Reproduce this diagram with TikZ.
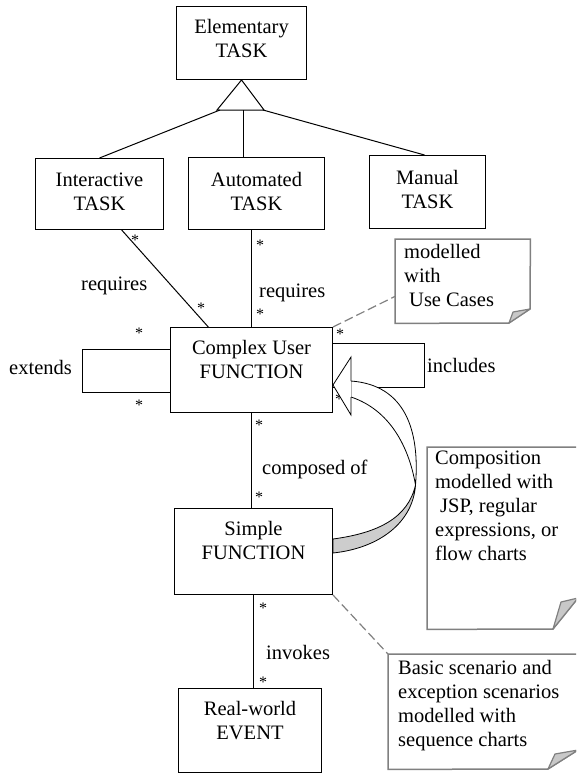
\documentclass[tikz,border=0pt]{standalone}
\usepackage{fontspec}
\setmainfont{Liberation Serif}
\usetikzlibrary{calc}
\definecolor{notegray}{RGB}{128,128,128}
\definecolor{flapgray}{RGB}{200,200,200}
\definecolor{arrowgray}{RGB}{205,205,205}
\begin{document}
\begin{tikzpicture}[x=1pt,y=-1pt,
  box/.style={draw, line width=1pt, inner sep=0pt, anchor=north west},
  boxtext/.style={font=\fontsize{20.5}{24}\selectfont, align=center, inner sep=0pt, anchor=north},
  lbl/.style={font=\fontsize{20.5}{24}\selectfont, inner sep=0pt, anchor=base west},
  star/.style={font=\fontsize{16}{16}\selectfont, inner sep=0pt, anchor=base},
  conn/.style={line width=1pt},
  notearea/.style={inner sep=0pt, anchor=north west},
  noteline/.style={draw=notegray, line width=1.5pt, line join=miter},
  flap/.style={draw=notegray, fill=flapgray, line width=1.2pt, line join=round},
  notetext/.style={font=\fontsize{20.5}{24}\selectfont, align=left, inner sep=0pt, anchor=north west},
  dashconn/.style={draw=notegray, line width=1.2pt, dash pattern=on 9pt off 4pt},
  blockarrow/.style={line width=0.8pt, line join=miter},
]
\clip (0,0) rectangle (576,774);

% boxes
\node[box, minimum width=130pt, minimum height=73pt] (elem) at (176,6) {};
\node[box, minimum width=128pt, minimum height=71pt] (inter) at (35,158) {};
\node[box, minimum width=136pt, minimum height=72pt] (auto) at (188,157) {};
\node[box, minimum width=116pt, minimum height=73pt] (manual) at (369,155) {};
\node[box, minimum width=162pt, minimum height=85pt] (complex) at (170,327) {};
\node[box, minimum width=158pt, minimum height=86pt] (simple) at (174,508) {};
\node[box, minimum width=143pt, minimum height=84pt] (event) at (178,688) {};

\node[boxtext] (elemtxt) at ([yshift=-13pt]elem.north) {Elementary\\TASK};
\node[boxtext] (intertxt) at ([yshift=-15pt]inter.north) {Interactive\\TASK};
\node[boxtext] (autotxt) at ([yshift=-15pt]auto.north) {Automated\\TASK};
\node[boxtext] (manualtxt) at ([yshift=-15pt]manual.north) {Manual\\TASK};
\node[boxtext] (complextxt) at ([yshift=-13pt]complex.north) {Complex User\\FUNCTION};
\node[boxtext] (simpletxt) at ([yshift=-13pt]simple.north) {Simple\\FUNCTION};
\node[boxtext] (eventtxt) at ([yshift=-13pt]event.north) {Real-world\\EVENT};

% generalization
\coordinate (apex) at (elem.south);
\coordinate (gl) at (217,110);
\coordinate (gr) at (264,110);
\draw[conn, line join=miter] (apex) -- (gr) -- (gl) -- cycle;
\coordinate (g1) at (220,110);
\coordinate (g2) at (243,110);
\coordinate (g3) at (263,110);
\draw[conn] (g1) -- (inter.north);
\draw[conn] (g2) -- (g2 |- auto.north);
\draw[conn] (g3) -- ([xshift=-3pt]manual.north);

% associations
\draw[conn] ($(inter.south west)!0.672!(inter.south east)$) -- ($(complex.north west)!0.235!(complex.north east)$);
\draw[conn] (complex.north |- auto.south) -- (complex.north);
\draw[conn] (complex.south) -- (complex.south |- simple.north);
\draw[conn] (simple.south) -- (simple.south |- event.north);
\draw[conn] ([yshift=21pt]complex.west) -- ++(-88,0) -- ++(0,43) -- ([yshift=-22pt]complex.west);
\draw[conn] ([yshift=27pt]complex.east) -- ++(91,0) -- ++(0,44) -- ([yshift=-17pt]complex.east);

% labels
\node[lbl] (req1) at (81,290) {requires};
\node[lbl] (req2) at (259,297) {requires};
\node[lbl] (ext) at (9,374) {extends};
\node[lbl] (inc) at (427,372) {includes};
\node[lbl] (comp) at (262,474) {composed of};
\node[lbl] (inv) at (266,659) {invokes};

% multiplicities
\node[star] (s1) at (135,245.5) {*};
\node[star] (s2) at (201,313.5) {*};
\node[star] (s3) at (260,250.5) {*};
\node[star] (s4) at (260,319.5) {*};
\node[star] (s5) at (139,338.5) {*};
\node[star] (s6) at (139,410.5) {*};
\node[star] (s7) at (340,339.5) {*};
\node[star] (s8) at (339,404.5) {*};
\node[star] (s9) at (259,430) {*};
\node[star] (s10) at (259,502.5) {*};
\node[star] (s11) at (263,613.5) {*};
\node[star] (s12) at (263,687.5) {*};

% curved block arrow (Simple -> Complex)
\filldraw[blockarrow, fill=white] (351,381) .. controls (405,385) and (420,430) .. (415.5,485)
   .. controls (409,447) and (390,410) .. (351,397) -- cycle;
\filldraw[blockarrow, fill=arrowgray] (415.5,485) .. controls (413,522) and (380,548) .. (333,553)
   -- (333,539) .. controls (378,533) and (408,518) .. (415.5,485) -- cycle;
\filldraw[blockarrow, fill=white] (351,381) -- (351,357) -- (333,385) -- (351,415) -- (351,397);

% notes
\node[notearea, minimum width=135pt, minimum height=84pt] (note1) at (395,239) {};
\draw[noteline] (509,323) -- (note1.south west) -- (note1.north west) -- (note1.north east) -- (530,309) -- cycle;
\draw[flap] (509,323) -- (513,312) -- (530,309) -- cycle;
\node[notetext] (note1txt) at (404,244) {modelled\\with\\\hspace*{5pt}Use Cases};

\node[notearea, minimum width=151pt, minimum height=182pt] (note2) at (427,447) {};
\draw[noteline] (553,629) -- (note2.south west) -- (note2.north west) -- (note2.north east) -- (578,598) -- cycle;
\draw[flap] (553,629) -- (561,602) -- (578,598) -- cycle;
\node[notetext] (note2txt) at (435,451) {Composition\\modelled with\\\hspace*{5pt}JSP, regular\\expressions, or\\flow charts};

\node[notearea, minimum width=190pt, minimum height=115pt] (note3) at (388,654) {};
\draw[noteline] (548,769) -- (note3.south west) -- (note3.north west) -- (note3.north east) -- (578,750) -- cycle;
\draw[flap] (548,769) -- (555,754) -- (578,750) -- cycle;
\node[notetext] (note3txt) at (398,660) {Basic scenario and\\exception scenarios\\modelled with\\sequence charts};

% note connectors
\draw[dashconn] (complex.north east) -- ($(note1.north west)!0.68!(note1.south west)$);
\draw[dashconn] (simple.south east) -- (note3.north west);
\end{tikzpicture}
\end{document}
